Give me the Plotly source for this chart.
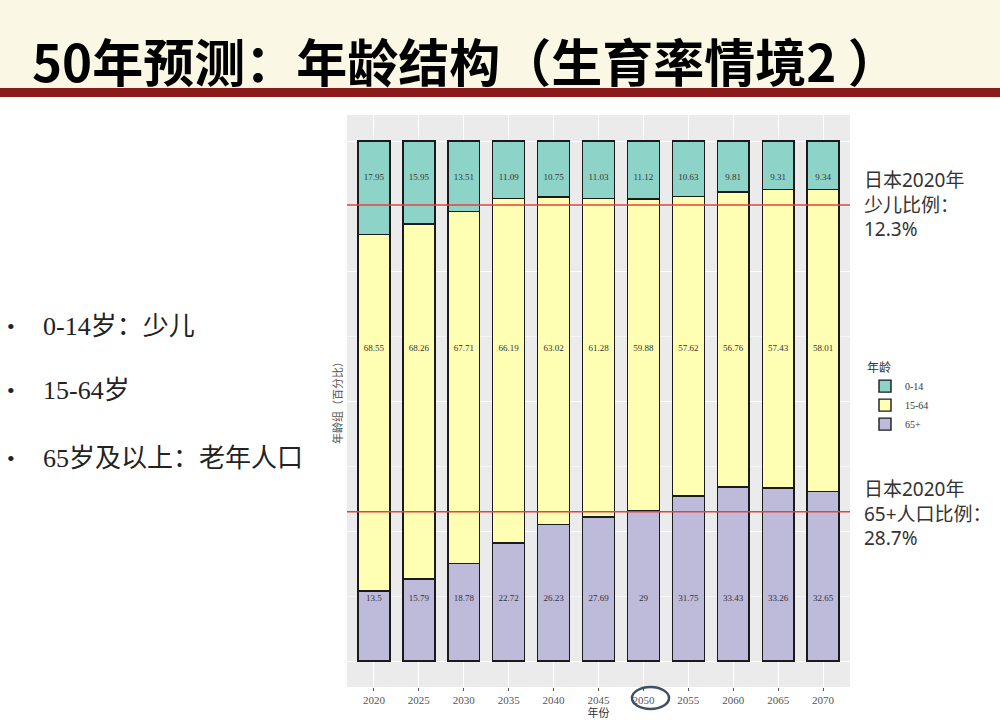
import plotly.graph_objects as go

# data
years = ["2020", "2025", "2030", "2035", "2040", "2045", "2050", "2055", "2060", "2065", "2070"]
age_children = [17.95, 15.95, 13.51, 11.09, 10.75, 11.03, 11.12, 10.63, 9.81, 9.31, 9.34]
age_working = [68.55, 68.26, 67.71, 66.19, 63.02, 61.28, 59.88, 57.62, 56.76, 57.43, 58.01]
age_elderly = [13.5, 15.79, 18.78, 22.72, 26.23, 27.69, 29, 31.75, 33.43, 33.26, 32.65]
group_names = ["0-14", "15-64", "65+"]

japan_child_2020 = 12.3
japan_elderly_2020 = 28.7

bullets = ["0-14岁：少儿", "15-64岁", "65岁及以上：老年人口"]

# styles
colors = {"0-14": "#8DD3C7", "15-64": "#FFFFB3", "65+": "#BEBADA"}
label_y = {"0-14": 93, "15-64": 60, "65+": 12}
SERIF = "Liberation Serif, Noto Sans CJK SC, serif"
SANS = "Noto Sans, Noto Sans CJK SC, sans-serif"
W, H = 1000, 720


def px(xp, yp):
    """pixel position -> paper coords"""
    return xp / W, 1 - yp / H


fig = go.Figure()

# stacked bars, 65+ at the bottom
for name, vals in [("65+", age_elderly), ("15-64", age_working), ("0-14", age_children)]:
    fig.add_trace(go.Bar(
        x=years, y=vals, name=name,
        marker=dict(color=colors[name], line=dict(color="#1a1a1a", width=1.4)),
    ))

# value labels (placed at fixed heights, like the original)
for name, vals in [("65+", age_elderly), ("15-64", age_working), ("0-14", age_children)]:
    fig.add_trace(go.Scatter(
        x=years, y=[label_y[name]] * len(years), mode="text",
        text=[f"{v:g}" for v in vals],
        textfont=dict(family=SERIF, size=9, color="#333333"),
        showlegend=False, hoverinfo="skip",
    ))

# Japan 2020 reference lines
for val in [100 - japan_child_2020, japan_elderly_2020]:
    fig.add_shape(type="line", xref="x domain", yref="y", x0=0, x1=1, y0=val, y1=val,
                  line=dict(color="#E8413C", width=1.6))

shapes_bg = [
    dict(type="rect", xref="paper", yref="paper", x0=0, x1=1, y0=px(0, 88)[1], y1=1,
         fillcolor="#FAF7E4", line_width=0, layer="below"),
    dict(type="rect", xref="paper", yref="paper", x0=0, x1=1, y0=px(0, 97)[1], y1=px(0, 88)[1],
         fillcolor="#8B1A1A", line_width=0, layer="below"),
]
for s in shapes_bg:
    fig.add_shape(**s)

# circle round 2050
x0, y0 = px(632, 709)
x1, y1 = px(669, 687)
fig.add_shape(type="circle", xref="paper", yref="paper", x0=x0, x1=x1, y0=y0, y1=y1,
              line=dict(color="#3D5066", width=2.5))

# title
tx, ty = px(30, 60)
fig.add_annotation(x=tx, y=ty, xref="paper", yref="paper", xanchor="left", yanchor="middle",
                   text="<b>50年预测：年龄结构（生育率情境2 ）</b>", showarrow=False,
                   font=dict(family="Noto Sans CJK SC", size=51, color="#000000"))

# bullet list on the left
for i, b in enumerate(bullets):
    yy = [327, 390, 458][i]
    fig.add_annotation(x=px(5, 0)[0], y=px(0, yy)[1], xref="paper", yref="paper",
                       xanchor="left", yanchor="middle", text="•", showarrow=False,
                       font=dict(family=SERIF, size=22, color="#222222"))
    fig.add_annotation(x=px(41, 0)[0], y=px(0, yy)[1], xref="paper", yref="paper",
                       xanchor="left", yanchor="middle", text=b, showarrow=False,
                       font=dict(family=SERIF, size=26, color="#222222"))

# notes on the right
notes = [
    (165, f"日本2020年<br>少儿比例：<br>{japan_child_2020}%"),
    (474, f"日本2020年<br>65+人口比例：<br>{japan_elderly_2020}%"),
]
for yy, txt in notes:
    fig.add_annotation(x=px(862, 0)[0], y=px(0, yy)[1], xref="paper", yref="paper",
                       xanchor="left", yanchor="top", align="left", text=txt, showarrow=False,
                       font=dict(family=SANS, size=19, color="#333333"))

# y axis title
fig.add_annotation(x=px(337, 0)[0], y=px(0, 400)[1], xref="paper", yref="paper",
                   text="年龄组（百分比）", textangle=-90, showarrow=False,
                   font=dict(family=SERIF, size=11, color="#555555"))

fig.update_layout(
    width=W, height=H,
    margin=dict(l=0, r=0, t=0, b=0),
    paper_bgcolor="white",
    plot_bgcolor="#EBEBEB",
    barmode="stack",
    bargap=0.29,
    showlegend=True,
    legend=dict(
        x=px(865, 0)[0], y=px(0, 356)[1], xanchor="left", yanchor="top",
        traceorder="reversed",
        title=dict(text="年龄", font=dict(family=SERIF, size=12, color="#333333")),
        font=dict(family=SERIF, size=10, color="#333333"),
        bgcolor="rgba(0,0,0,0)",
        tracegroupgap=0,
    ),
    xaxis=dict(
        domain=[347 / W, 850 / W],
        type="category",
        range=[-0.6, 10.6],
        showgrid=True, gridcolor="white", gridwidth=1,
        ticks="outside", ticklen=3, tickcolor="#555555",
        tickfont=dict(family=SERIF, size=11, color="#555555"),
        title=dict(text="年份", font=dict(family=SERIF, size=11, color="#333333"), standoff=1),
        zeroline=False,
    ),
    yaxis=dict(
        domain=[1 - 687 / H, 1 - 115 / H],
        range=[-5, 105],
        tickvals=[0, 25, 50, 75, 100],
        showticklabels=False,
        showgrid=True, gridcolor="white", gridwidth=1.2,
        minor=dict(tickvals=[12.5, 37.5, 62.5, 87.5], showgrid=True, gridcolor="#F6F6F6", gridwidth=0.6),
        zeroline=False,
    ),
)

# drop the default page margin so the figure sits at the window's top-left
fig.write_html("out.html", config={"displayModeBar": False},
               post_script="document.body.style.margin='0';")
